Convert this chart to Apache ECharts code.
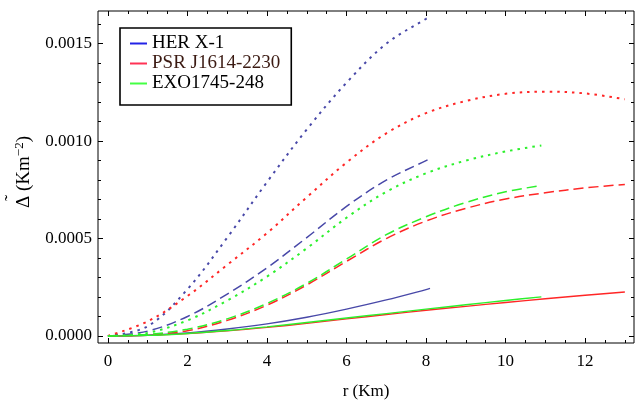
<!DOCTYPE html>
<html>
<head>
<meta charset="utf-8">
<script src="https://cdn.jsdelivr.net/npm/echarts@6/dist/echarts.min.js"></script>
<style>
  html, body { margin: 0; padding: 0; background: #fff; }
  #chart { width: 642px; height: 402px; }
</style>
</head>
<body>
<div id="chart"></div>
<script>
// radius grids (Km)
const rHer = [0, 1, 2, 3, 4, 5, 6, 7, 8, 8.1];
const rPsr = [0, 1, 2, 3, 4, 5, 6, 7, 8, 9, 10, 11, 12, 13];
const rExo = [0, 1, 2, 3, 4, 5, 6, 7, 8, 9, 10, 10.9];

// HER X-1
const herSolid  = [0, 0.000004, 0.000016, 0.000036, 0.000062, 0.000096, 0.000138, 0.000185, 0.000238, 0.000244];
const herDashed = [0, 0.000025, 0.000100, 0.000215, 0.000350, 0.000505, 0.000665, 0.000800, 0.000900, 0.000910];
const herDotted = [0, 0.000050, 0.000240, 0.000505, 0.000790, 0.001060, 0.001300, 0.001500, 0.001628, 0.001638];

// PSR J1614-2230
const psrSolid  = [0, 0.000003, 0.000012, 0.000026, 0.000044, 0.000065, 0.000088, 0.000110, 0.000132, 0.000152, 0.000172, 0.000191, 0.000209, 0.000226];
const psrDashed = [0, 0.000006, 0.000027, 0.000080, 0.000158, 0.000262, 0.000383, 0.000500, 0.000590, 0.000655, 0.000703, 0.000735, 0.000760, 0.000778];
const psrDotted = [0, 0.000075, 0.000205, 0.000365, 0.000528, 0.000712, 0.000890, 0.001040, 0.001144, 0.001206, 0.001243, 0.001254, 0.001245, 0.001215];

// EXO1745-248
const exoSolid  = [0, 0.000003, 0.000013, 0.000028, 0.000047, 0.000069, 0.000092, 0.000115, 0.000138, 0.000160, 0.000182, 0.000201];
const exoDashed = [0, 0.000008, 0.000035, 0.000088, 0.000167, 0.000270, 0.000395, 0.000520, 0.000612, 0.000685, 0.000740, 0.000772];
const exoDotted = [0, 0.000016, 0.000080, 0.000182, 0.000305, 0.000450, 0.000607, 0.000740, 0.000835, 0.000900, 0.000947, 0.000978];

// ticks
const xMajor = [0, 2, 4, 6, 8, 10, 12];
const xMinor = [0.5, 1, 1.5, 2.5, 3, 3.5, 4.5, 5, 5.5, 6.5, 7, 7.5, 8.5, 9, 9.5, 10.5, 11, 11.5, 12.5, 13];
const yMajor = [0, 0.0005, 0.0010, 0.0015];
const yMinor = [0.0001, 0.0002, 0.0003, 0.0004, 0.0006, 0.0007, 0.0008, 0.0009, 0.0011, 0.0012, 0.0013, 0.0014, 0.0016];

const names = ['HER X-1', 'PSR J1614-2230', 'EXO1745-248'];
const curveColors = ['#4848a8', '#ff2626', '#2cf02c'];
const legendColors = ['#2323e6', '#ff3355', '#44ff44'];

const font = 'Liberation Serif, Times New Roman, serif';

function pairs(r, v) {
  return v.map(function (d, i) { return [r[i], d]; });
}

function curve(idx, r, v, kind) {
  let type = 'solid', width = 1.4;
  if (kind === 'dashed') { type = [10, 5]; width = 1.5; }
  if (kind === 'dotted') { type = [2.5, 5]; width = 2; }
  return {
    name: names[idx],
    type: 'line',
    xAxisIndex: 0,
    yAxisIndex: 0,
    data: pairs(r, v),
    showSymbol: false,
    symbol: 'none',
    smooth: 0.35,
    color: curveColors[idx],
    lineStyle: { color: curveColors[idx], width: width, type: type },
    z: 2 + idx
  };
}

const xMin = -0.25, xMax = 13.23;
const yMin = -0.000036, yMax = 0.001668;

function xAxisDef(grid, pos, major, labels) {
  return {
    type: 'value', gridIndex: grid, position: pos, min: xMin, max: xMax,
    axisLine: { show: false, onZero: false },
    splitLine: { show: false },
    axisTick: { show: true, inside: true, length: major ? 5 : 3, customValues: major ? xMajor : xMinor,
      lineStyle: { color: '#000', width: 1 } },
    axisLabel: { show: labels, customValues: xMajor, margin: 10, color: '#000', fontFamily: font, fontSize: 17 },
    name: labels ? 'r (Km)' : '',
    nameLocation: 'middle', nameGap: 40,
    nameTextStyle: { color: '#000', fontFamily: font, fontSize: 17 }
  };
}

function yAxisDef(grid, pos, major, labels) {
  return {
    type: 'value', gridIndex: grid, position: pos, min: yMin, max: yMax,
    axisLine: { show: false, onZero: false },
    splitLine: { show: false },
    axisTick: { show: true, inside: true, length: major ? 5 : 3, customValues: major ? yMajor : yMinor,
      lineStyle: { color: '#000', width: 1 } },
    axisLabel: { show: labels, customValues: yMajor, margin: 6, color: '#000', fontFamily: font, fontSize: 17,
      formatter: function (v) { return v.toFixed(4); } },
    // tilde drawn as its own line above the Delta
    name: labels ? '{t|\u02dc}\n{d|\u0394}{a| (Km}{s|\u22122}{a|)}' : '',
    nameLocation: 'middle', nameGap: 56, nameRotate: 90,
    nameTextStyle: {
      color: '#000', fontFamily: font, fontSize: 19,
      rich: {
        t: { fontFamily: font, fontSize: 19, color: '#000', lineHeight: 1, padding: [0, 42, 0, 0] },
        d: { fontFamily: font, fontSize: 19, color: '#000', lineHeight: 22, padding: [0, 0, 0, 10] },
        a: { fontFamily: font, fontSize: 19, color: '#000', lineHeight: 22 },
        s: { fontFamily: font, fontSize: 13, color: '#000', verticalAlign: 'top', lineHeight: 22, padding: [0, 0, 8, 0] }
      }
    }
  };
}

const gridBox = { left: 98, right: 8, top: 11, bottom: 59, outerBoundsMode: 'none', containLabel: false };

const chart = echarts.init(document.getElementById('chart'));
chart.setOption({
  animation: false,
  backgroundColor: '#fff',
  grid: [
    Object.assign({ show: true, borderColor: '#000', borderWidth: 1, backgroundColor: 'transparent' }, gridBox),
    Object.assign({ show: false }, gridBox)
  ],
  xAxis: [
    xAxisDef(0, 'bottom', true, true), xAxisDef(0, 'top', true, false),
    xAxisDef(1, 'bottom', false, false), xAxisDef(1, 'top', false, false)
  ],
  yAxis: [
    yAxisDef(0, 'left', true, true), yAxisDef(0, 'right', true, false),
    yAxisDef(1, 'left', false, false), yAxisDef(1, 'right', false, false)
  ],
  legend: {
    orient: 'vertical', left: 120, top: 28,
    padding: [6, 11, 12, 10],
    itemGap: 1, itemWidth: 17, itemHeight: 2, icon: 'rect',
    backgroundColor: '#fff', borderColor: '#000', borderWidth: 1.6,
    textStyle: { fontFamily: font, fontSize: 19, lineHeight: 19, color: '#000' },
    data: [
      { name: names[0], itemStyle: { color: legendColors[0] } },
      { name: names[1], itemStyle: { color: legendColors[1] }, textStyle: { color: '#3b1a12' } },
      { name: names[2], itemStyle: { color: legendColors[2] } }
    ]
  },
  series: [
    curve(0, rHer, herSolid, 'solid'),
    curve(0, rHer, herDashed, 'dashed'),
    curve(0, rHer, herDotted, 'dotted'),
    curve(1, rPsr, psrSolid, 'solid'),
    curve(1, rPsr, psrDashed, 'dashed'),
    curve(1, rPsr, psrDotted, 'dotted'),
    curve(2, rExo, exoSolid, 'solid'),
    curve(2, rExo, exoDashed, 'dashed'),
    curve(2, rExo, exoDotted, 'dotted')
  ]
});
</script>
</body>
</html>
